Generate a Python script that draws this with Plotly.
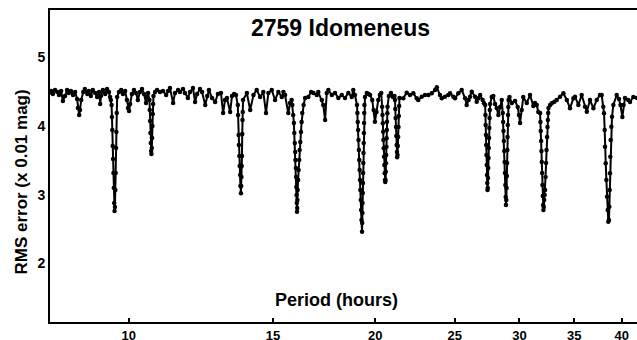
import plotly.graph_objects as go

# Period (hours) and RMS error (x 0.01 mag)
period_h = [
    7.99, 8.04, 8.08, 8.13, 8.18, 8.22, 8.27, 8.31, 8.36, 8.41, 8.45, 8.50, 8.55, 8.60, 8.65, 8.67, 8.70, 8.72, 8.75, 8.80,
    8.84, 8.90, 8.94, 8.99, 9.04, 9.10, 9.15, 9.20, 9.23, 9.25, 9.30, 9.36, 9.41, 9.46, 9.49, 9.51,
    9.53, 9.54, 9.55, 9.56, 9.57, 9.58, 9.59, 9.60, 9.61, 9.62, 9.63, 9.64, 9.65, 9.66, 9.67, 9.68,
    9.73, 9.79, 9.84, 9.90, 9.95, 9.98, 10.01, 10.04, 10.09, 10.15, 10.21, 10.26, 10.32, 10.38, 10.44, 10.50, 10.53, 10.56,
    10.60, 10.61, 10.62, 10.63, 10.64, 10.65, 10.66, 10.67, 10.68, 10.69, 10.70, 10.71, 10.72,
    10.77, 10.83, 10.92, 11.01, 11.11, 11.17, 11.23, 11.33, 11.39, 11.49, 11.55, 11.65, 11.71, 11.81, 11.88, 11.98,
    12.05, 12.12, 12.22, 12.29, 12.40, 12.47, 12.53, 12.64, 12.75, 12.85, 12.96, 13.04, 13.11, 13.18, 13.30, 13.37, 13.45, 13.52,
    13.59, 13.60, 13.62, 13.63, 13.65, 13.66, 13.68, 13.69, 13.71, 13.72, 13.73, 13.74, 13.75, 13.76, 13.77, 13.78, 13.79,
    13.94, 14.07, 14.20, 14.33, 14.47, 14.60, 14.71, 14.81, 14.95, 15.09, 15.23, 15.38, 15.45, 15.52, 15.66, 15.74, 15.81,
    15.84, 15.88, 15.91, 15.93, 15.95, 15.97, 15.98, 16.00, 16.01, 16.02, 16.03, 16.04, 16.05,
    16.06, 16.07, 16.08, 16.10, 16.12, 16.15, 16.17, 16.20, 16.23, 16.26, 16.29, 16.35, 16.42,
    16.57, 16.70, 16.81, 16.97, 17.04, 17.21, 17.28, 17.37, 17.45, 17.53, 17.70, 17.86, 18.03, 18.20, 18.37, 18.54, 18.72, 18.80, 18.89,
    19.00, 19.02, 19.04, 19.06, 19.08, 19.10, 19.12, 19.14, 19.16, 19.18, 19.20, 19.22, 19.24, 19.27,
    19.28, 19.29, 19.30, 19.31, 19.32, 19.33, 19.34, 19.35, 19.36, 19.37, 19.38, 19.39, 19.40,
    19.43, 19.53, 19.63, 19.71, 19.83, 19.91, 19.98, 20.07, 20.17, 20.26, 20.34,
    20.39, 20.41, 20.43, 20.45, 20.46, 20.48, 20.50, 20.52, 20.54, 20.55, 20.57,
    20.59, 20.60, 20.61, 20.62, 20.64, 20.65, 20.66, 20.67, 20.69, 20.70,
    20.78, 20.90, 21.02, 21.11,
    21.14, 21.16, 21.18, 21.20, 21.22, 21.24, 21.26, 21.27, 21.29, 21.31, 21.33, 21.35, 21.37, 21.39, 21.41,
    21.64, 21.85, 22.05, 22.26, 22.47, 22.57, 22.79, 23.00, 23.22, 23.44, 23.66, 23.78, 23.99, 24.11, 24.33, 24.56, 24.68,
    24.91, 25.03, 25.26, 25.50, 25.75, 25.86, 26.00, 26.11, 26.23, 26.48, 26.60, 26.73, 26.86, 27.05, 27.15,
    27.24, 27.26, 27.28, 27.30, 27.32, 27.34, 27.36, 27.38, 27.40, 27.42,
    27.44, 27.46, 27.48, 27.50, 27.52, 27.54, 27.56, 27.58, 27.60, 27.62,
    27.75, 27.87, 28.01, 28.14, 28.27, 28.41, 28.54,
    28.62, 28.65, 28.68, 28.71, 28.74, 28.77, 28.80, 28.83, 28.86, 28.88,
    28.91, 28.93, 28.95, 28.97, 28.99, 29.01, 29.03, 29.05, 29.07, 29.09,
    29.17, 29.36, 29.63, 29.85, 29.96, 30.05, 30.19, 30.32, 30.62, 30.90, 31.19, 31.34, 31.49, 31.63,
    31.79, 31.82, 31.85, 31.88, 31.91, 31.94, 31.97, 32.00, 32.03, 32.06, 32.09,
    32.12, 32.16, 32.20, 32.24, 32.28, 32.33, 32.37, 32.42, 32.46, 32.49, 32.52, 32.55,
    32.70, 32.85, 33.09, 33.31, 33.63, 33.94, 34.27, 34.58, 34.91, 35.07, 35.40, 35.73, 36.07, 36.25, 36.58, 36.93,
    37.27, 37.62, 37.80, 37.97,
    38.05, 38.12, 38.15, 38.23, 38.30, 38.37, 38.44, 38.51,
    38.58, 38.62, 38.66, 38.69, 38.73, 38.77, 38.84, 38.91, 39.06,
    39.43, 39.68, 39.85, 40.06, 40.20, 40.36, 40.73, 40.93, 41.32, 41.75,
]

rms_err = [
    4.481, 4.510, 4.466, 4.524, 4.495, 4.451, 4.510, 4.364, 4.437, 4.524, 4.481, 4.510, 4.451, 4.495, 4.393, 4.262, 4.160, 4.233, 4.379, 4.495,
    4.539, 4.466, 4.510, 4.437, 4.524, 4.481, 4.422, 4.495, 4.320, 4.437, 4.524, 4.466, 4.539, 4.495, 4.422, 4.379,
    4.306, 4.131, 3.942, 3.709, 3.519, 3.316, 3.097, 2.879, 2.762, 2.820, 3.068, 3.316, 3.680, 3.913, 4.189, 4.422,
    4.495, 4.524, 4.466, 4.510, 4.379, 4.262, 4.218, 4.320, 4.466, 4.524, 4.481, 4.379, 4.495, 4.539, 4.466, 4.335, 4.422, 4.481,
    4.379, 4.233, 4.073, 3.898, 3.752, 3.636, 3.592, 3.680, 3.825, 4.000, 4.175, 4.320, 4.437,
    4.495, 4.524, 4.495, 4.510, 4.451, 4.510, 4.553, 4.335, 4.481, 4.524, 4.495, 4.539, 4.481, 4.408, 4.495, 4.553,
    4.350, 4.466, 4.539, 4.495, 4.306, 4.437, 4.524, 4.408, 4.350, 4.466, 4.481, 4.189, 4.379, 4.408, 4.204, 4.437, 4.466, 4.451,
    4.306, 4.160, 3.869, 3.723, 3.563, 3.418, 3.286, 3.126, 3.020, 3.126, 3.257, 3.418, 3.563, 3.883, 4.087, 4.204, 4.379,
    4.481, 4.233, 4.451, 4.524, 4.422, 4.495, 4.189, 4.481, 4.524, 4.379, 4.495, 4.422, 4.495, 4.451, 4.189, 4.335, 4.379,
    4.306, 4.160, 4.044, 3.898, 3.752, 3.621, 3.505, 3.388, 3.257, 3.112, 2.995, 2.879, 2.752,
    2.806, 2.922, 3.068, 3.214, 3.359, 3.505, 3.650, 3.767, 3.913, 4.058, 4.189, 4.306, 4.408,
    4.422, 4.495, 4.481, 4.451, 4.495, 4.379, 4.306, 4.087, 4.481, 4.524, 4.451, 4.481, 4.408, 4.451, 4.408, 4.481, 4.422, 4.524, 4.451,
    4.306, 4.189, 4.058, 3.942, 3.796, 3.650, 3.505, 3.359, 3.214, 3.068, 2.922, 2.777, 2.631, 2.461,
    2.587, 2.733, 2.879, 3.024, 3.170, 3.316, 3.461, 3.607, 3.752, 3.898, 4.044, 4.189, 4.306,
    4.422, 4.481, 4.466, 4.451, 4.379, 4.233, 4.063, 4.204, 4.379, 4.451, 4.481,
    4.281, 4.160, 4.039, 3.917, 3.796, 3.675, 3.553, 3.432, 3.311, 3.214, 3.185,
    3.214, 3.334, 3.457, 3.578, 3.699, 3.821, 3.942, 4.063, 4.185, 4.281,
    4.437, 4.481, 4.422, 4.437,
    4.379, 4.248, 4.117, 3.985, 3.854, 3.723, 3.621, 3.544, 3.578, 3.709, 3.840, 3.985, 4.146, 4.291, 4.408,
    4.403, 4.485, 4.451, 4.476, 4.403, 4.379, 4.427, 4.451, 4.451, 4.476, 4.524, 4.564, 4.451, 4.403, 4.427, 4.451, 4.476,
    4.427, 4.403, 4.476, 4.524, 4.403, 4.306, 4.379, 4.427, 4.500, 4.427, 4.354, 4.403, 4.451, 4.379, 4.331,
    4.306, 4.160, 4.015, 3.869, 3.723, 3.578, 3.432, 3.286, 3.170, 3.068,
    3.097, 3.243, 3.388, 3.534, 3.680, 3.825, 3.971, 4.117, 4.233, 4.320,
    4.422, 4.437, 4.320, 4.262, 4.160, 4.277, 4.379,
    4.189, 4.058, 3.927, 3.782, 3.636, 3.476, 3.316, 3.141, 2.966, 2.850,
    2.922, 3.097, 3.272, 3.461, 3.650, 3.840, 4.015, 4.160, 4.277, 4.379,
    4.422, 4.335, 4.364, 4.277, 4.160, 4.044, 4.233, 4.422, 4.335, 4.451, 4.291, 4.335, 4.306, 4.204,
    4.189, 4.058, 3.927, 3.782, 3.636, 3.476, 3.316, 3.141, 2.981, 2.850, 2.777,
    2.820, 2.922, 2.995, 3.068, 3.257, 3.461, 3.650, 3.840, 3.985, 4.087, 4.189, 4.262,
    4.306, 4.331, 4.354, 4.379, 4.427, 4.476, 4.379, 4.258, 4.403, 4.427, 4.306, 4.451, 4.281, 4.208, 4.379, 4.258,
    4.379, 4.451, 4.451, 4.281,
    4.185, 3.942, 3.699, 3.457, 3.214, 2.970, 2.777, 2.606,
    2.631, 2.825, 3.068, 3.311, 3.553, 3.796, 3.990, 4.135, 4.306,
    4.451, 4.393, 4.306, 4.131, 4.306, 4.408, 4.379, 4.350, 4.422, 4.408,
]

x_tick_vals = [10, 15, 20, 25, 30, 35, 40]
y_tick_vals = [2, 3, 4, 5]

title_text = "2759 Idomeneus"
x_title = "Period (hours)"
y_title = "RMS error (x 0.01 mag)"

FONT = "Liberation Sans, Arial, sans-serif"

fig = go.Figure(
    go.Scatter(
        x=period_h,
        y=rms_err,
        mode="lines+markers",
        line=dict(color="black", width=2),
        marker=dict(color="black", size=4.5),
        hoverinfo="x+y",
    )
)

fig.update_layout(
    width=637,
    height=340,
    margin=dict(l=50, r=0, t=10, b=18, autoexpand=False),
    paper_bgcolor="white",
    plot_bgcolor="white",
    showlegend=False,
    font=dict(family=FONT, color="black"),
    xaxis=dict(
        type="log",
        range=[0.9039, 1.6206],
        tickvals=x_tick_vals,
        ticktext=[str(v) for v in x_tick_vals],
        ticks="inside",
        ticklen=4,
        tickwidth=1.5,
        tickcolor="black",
        ticklabelstandoff=0,
        showline=True,
        linewidth=2,
        linecolor="black",
        mirror=True,
        showgrid=False,
        zeroline=False,
        automargin=False,
        tickfont=dict(family=FONT, size=13, color="black", weight="bold"),
    ),
    yaxis=dict(
        range=[1.146, 5.689],
        tickvals=y_tick_vals,
        ticktext=[str(v) for v in y_tick_vals],
        ticks="",
        showline=True,
        linewidth=2,
        linecolor="black",
        showgrid=False,
        zeroline=False,
        automargin=False,
        tickfont=dict(family=FONT, size=14, color="black", weight="bold"),
    ),
    annotations=[
        dict(text=title_text, xref="paper", yref="paper", x=0.4957, y=0.9423,
             xanchor="center", yanchor="middle", showarrow=False,
             font=dict(family=FONT, size=23, color="black", weight="bold")),
        dict(text=x_title, xref="paper", yref="paper", x=0.4889, y=0.0705,
             xanchor="center", yanchor="middle", showarrow=False,
             font=dict(family=FONT, size=18, color="black", weight="bold")),
        dict(text=y_title, xref="paper", yref="paper", x=-0.0477, y=0.447,
             xanchor="center", yanchor="middle", showarrow=False, textangle=-90,
             font=dict(family=FONT, size=17, color="black", weight="bold")),
    ],
)

fig.write_html("out.html")
